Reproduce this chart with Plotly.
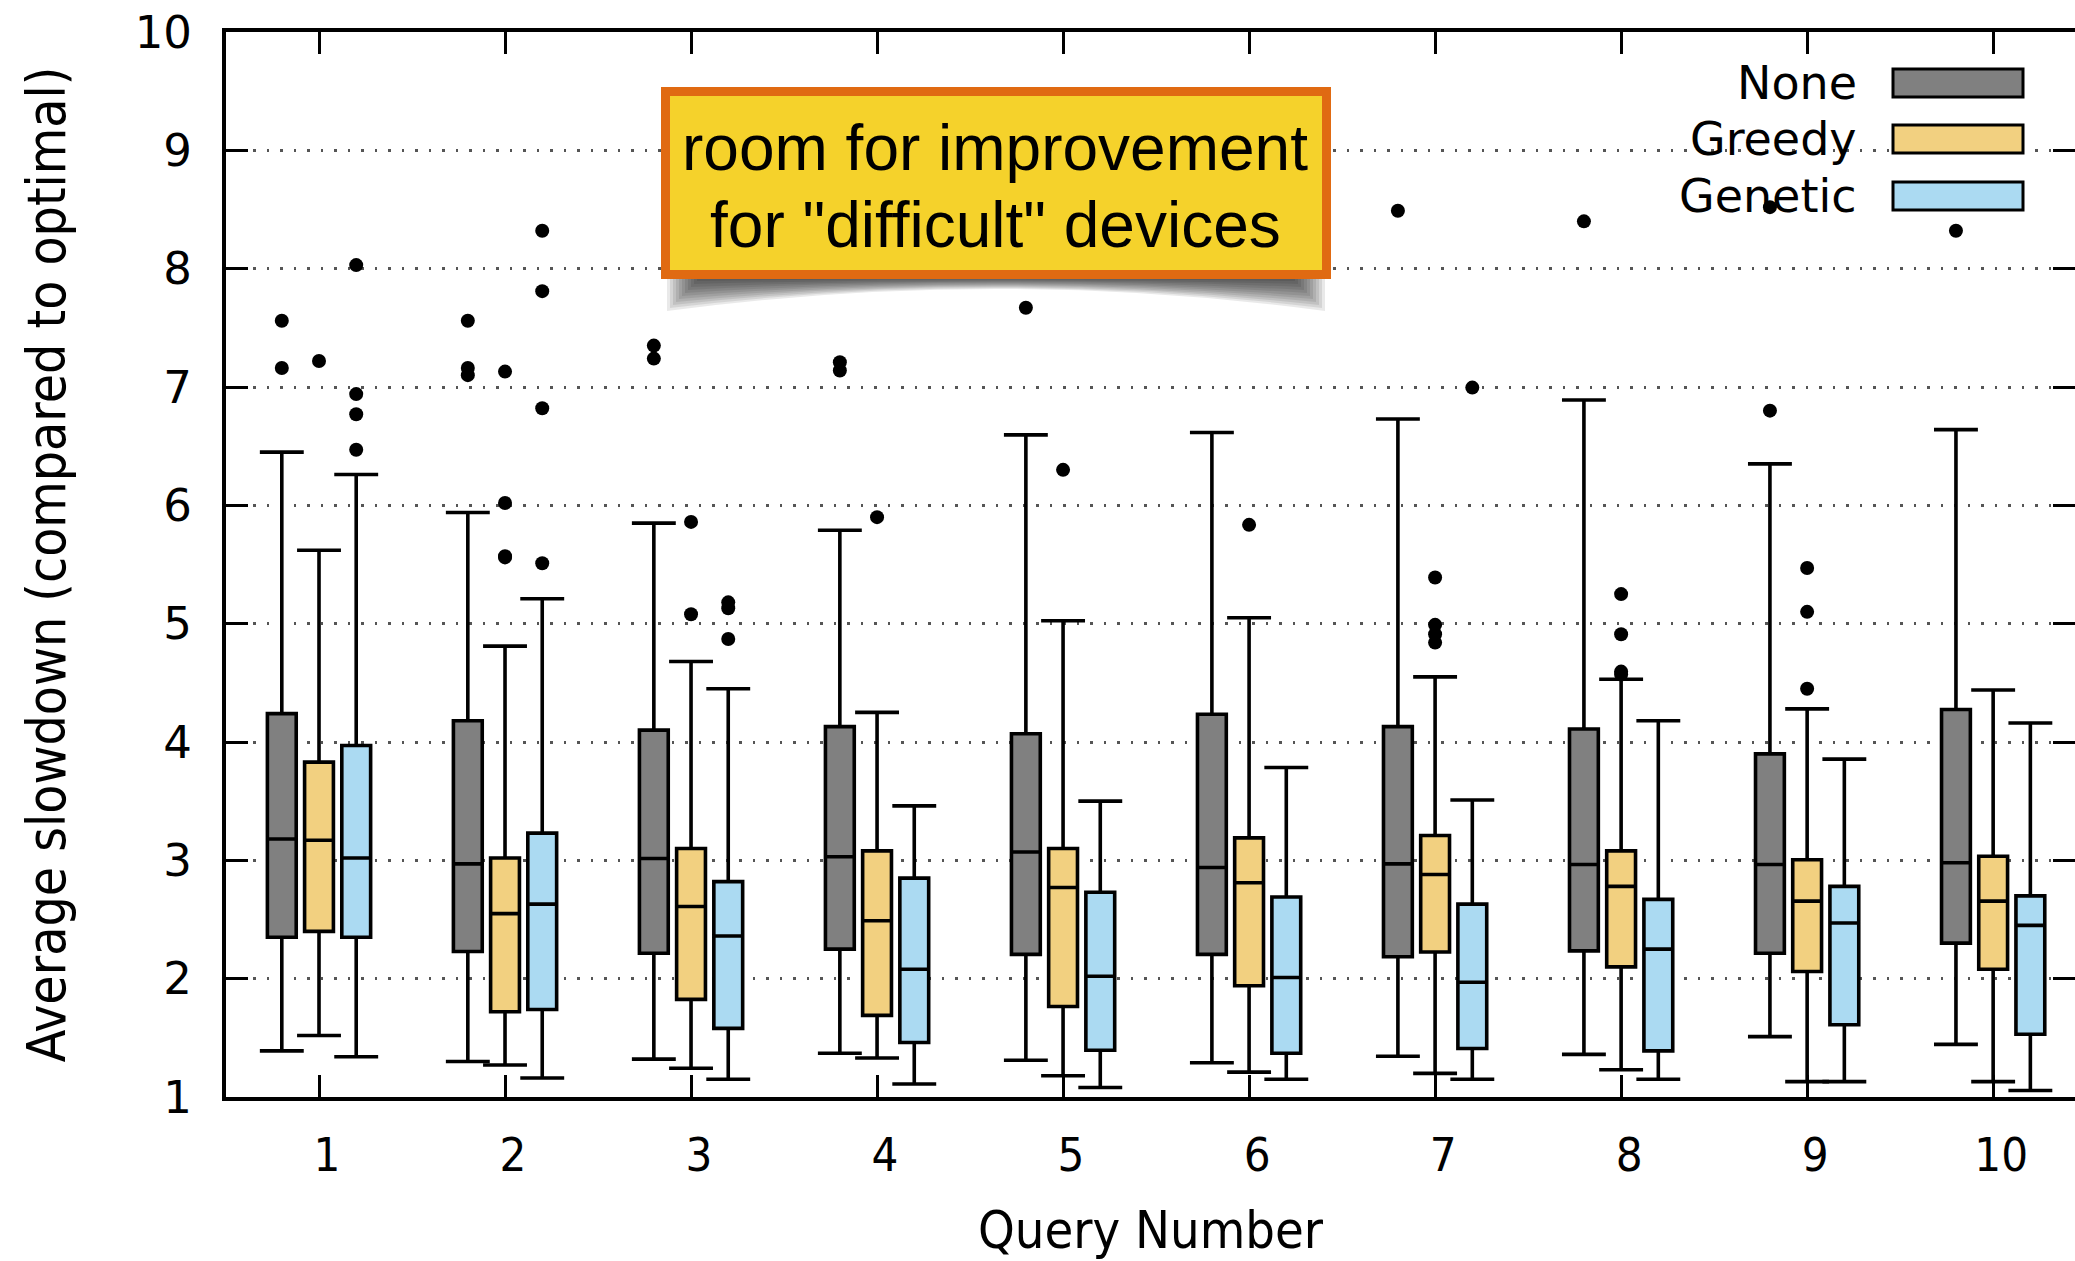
import plotly.graph_objects as go

# ---------------- data ----------------
queries = [1, 2, 3, 4, 5, 6, 7, 8, 9, 10]
series_names = ["None", "Greedy", "Genetic"]
series_colors = ["#808080", "#F2D080", "#ABDAF2"]

none_lower = [1.39, 1.30, 1.32, 1.37, 1.31, 1.29, 1.345, 1.36, 1.51, 1.445]
none_q1 = [2.35, 2.23, 2.215, 2.25, 2.205, 2.205, 2.185, 2.235, 2.215, 2.30]
none_med = [3.18, 2.97, 3.015, 3.03, 3.07, 2.94, 2.97, 2.965, 2.965, 2.98]
none_q3 = [4.24, 4.18, 4.10, 4.13, 4.07, 4.235, 4.13, 4.11, 3.90, 4.275]
none_upper = [6.45, 5.94, 5.85, 5.79, 6.595, 6.615, 6.73, 6.89, 6.35, 6.64]
none_out = [[7.56, 7.16], [7.56, 7.16, 7.10], [7.35, 7.24], [7.21, 7.14], [7.67],
            [], [8.49], [8.40], [8.52, 6.80], [8.32]]

greedy_lower = [1.52, 1.27, 1.243, 1.33, 1.18, 1.21, 1.20, 1.23, 1.13, 1.13]
greedy_q1 = [2.40, 1.72, 1.825, 1.69, 1.765, 1.94, 2.225, 2.10, 2.06, 2.08]
greedy_med = [3.17, 2.55, 2.61, 2.49, 2.77, 2.81, 2.88, 2.78, 2.655, 2.655]
greedy_q3 = [3.83, 3.02, 3.10, 3.08, 3.10, 3.19, 3.21, 3.08, 3.005, 3.035]
greedy_upper = [5.62, 4.81, 4.68, 4.25, 5.025, 5.05, 4.55, 4.53, 4.28, 4.44]
greedy_out = [[7.22], [7.13, 6.02, 5.57, 5.56], [5.86, 5.08], [5.90], [6.30], [5.835],
              [5.39, 4.99, 4.91, 4.84], [5.25, 4.91, 4.595, 4.57], [5.47, 5.10, 4.45], []]

genetic_lower = [1.34, 1.16, 1.15, 1.11, 1.08, 1.15, 1.15, 1.15, 1.13, 1.055]
genetic_q1 = [2.35, 1.74, 1.58, 1.46, 1.395, 1.37, 1.41, 1.39, 1.61, 1.53]
genetic_med = [3.02, 2.63, 2.36, 2.08, 2.02, 2.01, 1.97, 2.25, 2.47, 2.45]
genetic_q3 = [3.97, 3.23, 2.82, 2.85, 2.73, 2.69, 2.63, 2.67, 2.78, 2.70]
genetic_upper = [6.26, 5.21, 4.45, 3.46, 3.50, 3.785, 3.51, 4.18, 3.855, 4.16]
genetic_out = [[8.03, 6.94, 6.77, 6.47], [8.32, 7.81, 6.82, 5.51], [5.18, 5.13, 4.87],
               [], [], [], [6.995], [], [], []]

y_ticks = [1, 2, 3, 4, 5, 6, 7, 8, 9, 10]
x_title = "Query Number"
y_title = "Average slowdown (compared to optimal)"
note_lines = ["room for improvement", 'for "difficult" devices']

stats = [
    (none_lower, none_q1, none_med, none_q3, none_upper, none_out),
    (greedy_lower, greedy_q1, greedy_med, greedy_q3, greedy_upper, greedy_out),
    (genetic_lower, genetic_q1, genetic_med, genetic_q3, genetic_upper, genetic_out),
]

# ---------------- layout constants ----------------
W, H = 2075, 1261
ML, MR, MT, MB = 226, 0, 32, 164
PW, PH = W - ML - MR, H - MT - MB
GROUP_OFFSETS = [-0.2, 0.0, 0.2]
BOX_W = 0.155
CAP_HALF = 0.118


def px(xp):
    return (xp - ML) / PW


def py(yp):
    return (MT + PH - yp) / PH


fig = go.Figure()

for i, (name, color) in enumerate(zip(series_names, series_colors)):
    lo, q1, md, q3, up, outs = stats[i]
    pos = [q + GROUP_OFFSETS[i] for q in queries]
    fig.add_trace(go.Box(
        x=pos, q1=q1, median=md, q3=q3, lowerfence=lo, upperfence=up,
        width=BOX_W, whiskerwidth=0, fillcolor=color,
        line=dict(color="black", width=3.6), name=name, showlegend=False,
        boxpoints=False, hoverinfo="skip",
    ))
    # whisker caps
    cx, cy = [], []
    for p, a, b in zip(pos, lo, up):
        cx += [p - CAP_HALF, p + CAP_HALF, None, p - CAP_HALF, p + CAP_HALF, None]
        cy += [a, a, None, b, b, None]
    fig.add_trace(go.Scatter(x=cx, y=cy, mode="lines",
                             line=dict(color="black", width=3.6),
                             showlegend=False, hoverinfo="skip"))
    # outliers
    ox, oy = [], []
    for p, o in zip(pos, outs):
        for v in o:
            ox.append(p)
            oy.append(v)
    fig.add_trace(go.Scatter(x=ox, y=oy, mode="markers",
                             marker=dict(color="black", size=14),
                             showlegend=False, hoverinfo="skip"))

shapes = []
annotations = []

# curled drop shadow under the callout
BX0, BX1, BY0, BY1 = 661, 1331, 87, 279
xc = (BX0 + BX1) / 2
for k in range(12):
    xl = BX0 + 6 + 3 * k
    xr = BX1 - 6 - 3 * k
    de = 34 - 3 * k          # depth at the sides
    dc = max(12 - k, 1)      # depth at the centre
    ybase = BY1 - 2
    ye = ybase + max(de, 2)
    ymid = ybase + dc
    cy_ctrl = 2 * ymid - ye
    path = (f"M {px(xl)},{py(ybase)} L {px(xl)},{py(ye)} "
            f"Q {px(xc)},{py(cy_ctrl)} {px(xr)},{py(ye)} "
            f"L {px(xr)},{py(ybase)} Z")
    shapes.append(dict(type="path", xref="paper", yref="paper", path=path,
                       fillcolor="rgba(0,0,0,0.085)", line=dict(width=0)))
# callout box
shapes.append(dict(type="rect", xref="paper", yref="paper",
                   x0=px(BX0 + 4.5), x1=px(BX1 - 4.5), y0=py(BY0 + 4.5), y1=py(BY1 - 4.5),
                   fillcolor="#F5D22B", line=dict(color="#E06A12", width=9)))
for line_text, yc in zip(note_lines, [148, 225]):
    annotations.append(dict(xref="paper", yref="paper", x=px(995), y=py(yc),
                            text=line_text, showarrow=False, align="center",
                            xanchor="center", yanchor="middle",
                            font=dict(family="Liberation Sans, Arial, sans-serif",
                                      size=64, color="black")))

# legend (manual, to match long swatches)
leg_y = [83, 139, 196]
for name, color, yc in zip(series_names, series_colors, leg_y):
    annotations.append(dict(xref="paper", yref="paper", x=px(1859), y=py(yc),
                            text=name, showarrow=False, xanchor="right",
                            yanchor="middle",
                            font=dict(family="DejaVu Sans", size=46, color="black")))
    shapes.append(dict(type="rect", xref="paper", yref="paper",
                       x0=px(1893), x1=px(2023), y0=py(yc - 14), y1=py(yc + 14),
                       fillcolor=color, line=dict(color="black", width=3)))

# x-axis title, kept fully inside the page
annotations.append(dict(xref="paper", yref="paper", x=0.5, y=py(1230),
                        text=x_title, showarrow=False, xanchor="center",
                        yanchor="middle",
                        font=dict(family="DejaVu Sans Condensed, DejaVu Sans",
                                  size=52, color="black")))

fig.update_layout(
    width=W, height=H,
    margin=dict(l=ML, r=MR, t=MT, b=MB, pad=0),
    paper_bgcolor="white", plot_bgcolor="white",
    showlegend=False,
    shapes=shapes, annotations=annotations,
    xaxis=dict(
        range=[0.5, 10.44], tickvals=queries, ticktext=[str(q) for q in queries],
        ticks="inside", ticklen=22, tickwidth=2.5, tickcolor="black",
        showline=True, linewidth=4, linecolor="black", mirror="ticks",
        showgrid=False, zeroline=False, ticklabelstandoff=14, ticklabelshift=8,
        tickfont=dict(family="DejaVu Sans Condensed, DejaVu Sans", size=47, color="black"),
        automargin=False,
    ),
    yaxis=dict(
        range=[1, 10], tickvals=y_ticks,
        ticks="inside", ticklen=22, tickwidth=2.5, tickcolor="black",
        showline=True, linewidth=4, linecolor="black", mirror="ticks",
        showgrid=True, gridcolor="#555", gridwidth=2.5, griddash="2.5px,11px",
        zeroline=False, ticklabelstandoff=21,
        tickfont=dict(family="DejaVu Sans", size=45, color="black"),
        title=dict(text=y_title, standoff=53,
                   font=dict(family="DejaVu Sans Condensed, DejaVu Sans", size=53, color="black")),
        automargin=False,
    ),
)

fig.write_html("out.html")
